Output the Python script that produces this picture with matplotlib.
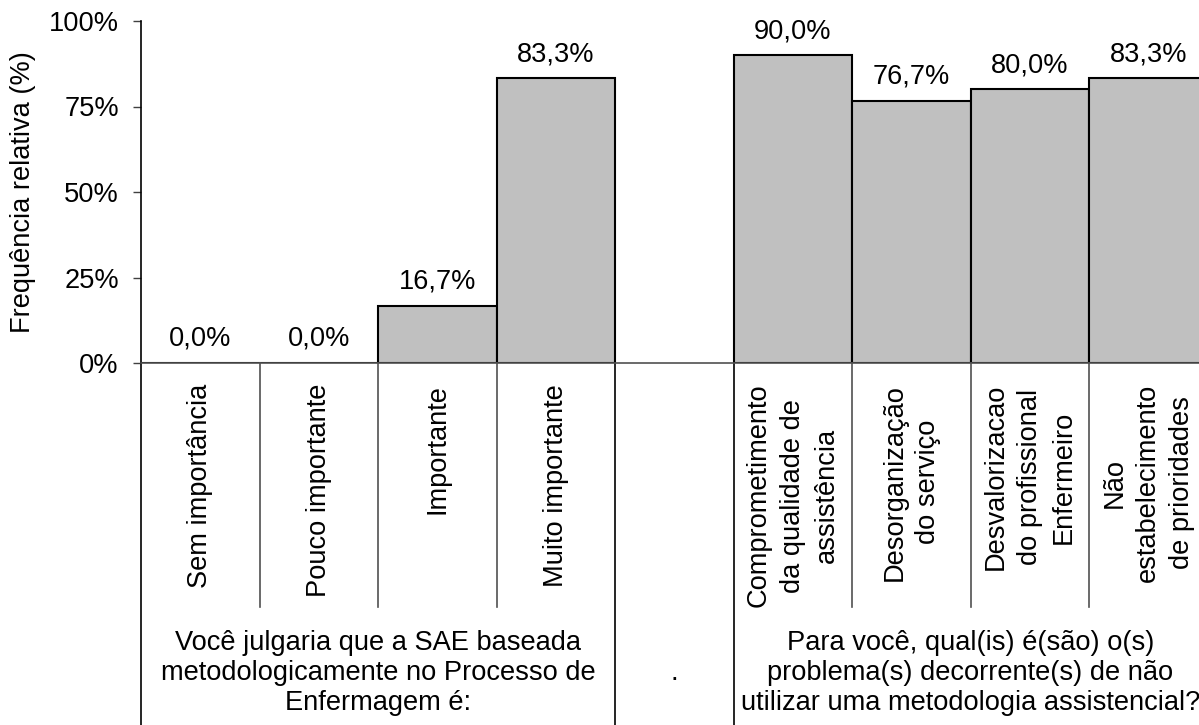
import matplotlib
matplotlib.use("Agg")
import matplotlib.pyplot as plt
import numpy as np

plt.rcParams['font.family'] = ['Liberation Sans', 'DejaVu Sans']

# first question: importance of SAE
group1_labels = ['Sem importância', 'Pouco importante', 'Importante', 'Muito importante']
group1_values = [0.0, 0.0, 16.7, 83.3]

# second question: problems from not using a methodology
group2_labels = ['Comprometimento\nda qualidade de\nassistência',
                 'Desorganização\ndo serviço',
                 'Desvalorizacao\ndo profissional\nEnfermeiro',
                 'Não\nestabelecimento\nde prioridades']
group2_values = [90.0, 76.7, 80.0, 83.3]

group_titles = ['Você julgaria que a SAE baseada\nmetodologicamente no Processo de\nEnfermagem é:',
                '.',
                'Para você, qual(is) é(são) o(s)\nproblema(s) decorrente(s) de não\nutilizar uma metodologia assistencial?']

y_ticks = [0, 25, 50, 75, 100]

FS = 19.6
W, H = 1199, 725

fig = plt.figure(figsize=(W / 100, H / 100), dpi=100)
# axis frame in pixels: left 141, right 1207 (runs past the edge), top 21, bottom 363
ax = fig.add_axes([141 / W, (H - 363) / H, (1207.5 - 141) / W, (363 - 21) / H])

n1 = len(group1_values)
n2 = len(group2_values)
x1 = np.arange(n1)
x2 = np.arange(n2) + n1 + 1
ncat = n1 + 1 + n2

for xs, vals in [(x1, group1_values), (x2, group2_values)]:
    ax.bar(xs, vals, width=1.0, align='edge', color='#C0C0C0',
           edgecolor='black', linewidth=1.5)
    for x, v in zip(xs, vals):
        ax.annotate(f'{v:.1f}'.replace('.', ',') + '%', (x + 0.5, v),
                    xytext=(0, 8), textcoords='offset points',
                    ha='center', va='bottom', fontsize=FS)

ax.set_xlim(0, ncat)
ax.set_ylim(0, 100)
ax.set_yticks(y_ticks)
ax.set_yticklabels([f'{t}%' for t in y_ticks], fontsize=FS)
ax.tick_params(axis='y', length=6, width=1, pad=10, color='#404040')

for s in ['top', 'right']:
    ax.spines[s].set_visible(False)
ax.spines['left'].set_linewidth(1.2)
ax.spines['bottom'].set_color('#505050')
ax.spines['bottom'].set_linewidth(1.2)

# category labels
centers = list(x1 + 0.5) + [n1 + 0.5] + list(x2 + 0.5)
labels = group1_labels + [''] + group2_labels
ax.set_xticks(centers)
ax.set_xticklabels(labels, rotation=90, fontsize=FS, va='top', ha='center',
                   multialignment='center', linespacing=1.4)
ax.tick_params(axis='x', length=0, pad=15)

tr = ax.get_xaxis_transform()
inner_bottom = (363 - 607) / 342
outer_bottom = (363 - 740) / 342

# dividers between categories inside each group
for x in list(x1[1:]) + list(x2[1:]):
    ax.plot([x, x], [0, inner_bottom], transform=tr, color='#505050',
            linewidth=1.2, clip_on=False)
# dividers between groups
for x in [0, n1, n1 + 1, ncat]:
    ax.plot([x, x], [0, outer_bottom], transform=tr, color='black',
            linewidth=1.2, clip_on=False)

# group titles under the categories
title_y = (363 - 673) / 342
title_x = [n1 / 2, n1 + 0.5, n1 + 1 + n2 / 2]
for x, t in zip(title_x, group_titles):
    ax.text(x, title_y, t, transform=tr, ha='center', va='center',
            multialignment='center', fontsize=FS, linespacing=1.22)

fig.text(23 / W, 1 - 192 / H, 'Frequência relativa (%)', rotation=90,
         ha='center', va='center', fontsize=FS)

fig.savefig('out.png', dpi=100)
